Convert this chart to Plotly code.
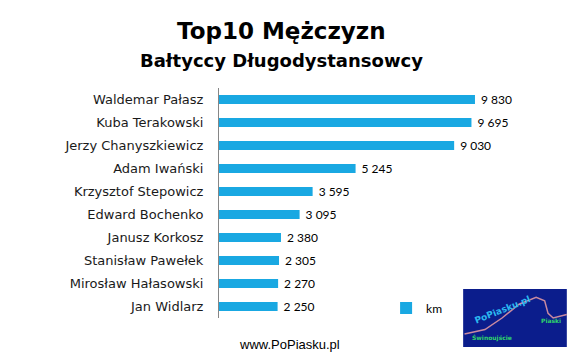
import plotly.graph_objects as go

names = ["Waldemar Pałasz", "Kuba Terakowski", "Jerzy Chanyszkiewicz", "Adam Iwański",
         "Krzysztof Stepowicz", "Edward Bochenko", "Janusz Korkosz", "Stanisław Pawełek",
         "Mirosław Hałasowski", "Jan Widlarz"]
km = [9830, 9695, 9030, 5245, 3595, 3095, 2380, 2305, 2270, 2250]
series_name = "km"
title = "Top10 Mężczyzn"
subtitle = "Bałtyccy Długodystansowcy"
footer = "www.PoPiasku.pl"

BAR = "#19a8e2"

fig = go.Figure(go.Bar(
    y=names, x=km, orientation="h", name=series_name,
    marker=dict(color=BAR, line=dict(width=0)),
    texttemplate="\u2005%{x:,.0f}", textposition="outside", constraintext="none",
    textfont=dict(family="Lato", size=12, color="#000000"),
    cliponaxis=False, showlegend=True,
))

fig.update_layout(
    width=578, height=355,
    margin=dict(l=219, r=18, t=88, b=37, autoexpand=False),
    paper_bgcolor="white", plot_bgcolor="white",
    separators=", ",
    bargap=0.6,
    xaxis=dict(range=[0, 13095], visible=False, showgrid=False, zeroline=False),
    yaxis=dict(categoryorder="array", categoryarray=names, autorange="reversed",
               showline=True, linecolor="#868686", linewidth=1, ticks="",
               ticklabelstandoff=12,
               tickfont=dict(family="DejaVu Sans", size=13, color="#1a1a1a"),
               showgrid=False, zeroline=False),
    legend=dict(x=0.49, y=0.043, xanchor="left", yanchor="middle",
                font=dict(family="Lato", size=12, color="#000000"),
                bgcolor="rgba(0,0,0,0)", itemwidth=30),
    font=dict(family="DejaVu Sans"),
)

anns = [
    dict(text=f"<b>{title}</b>", x=0.182, y=1.25, font=dict(family="DejaVu Sans", size=23, color="#000")),
    dict(text=f"<b>{subtitle}</b>", x=0.182, y=1.12, font=dict(family="DejaVu Sans", size=18, color="#000")),
    dict(text=footer, x=0.208, y=-0.117, font=dict(family="Liberation Sans", size=13, color="#000")),
    dict(text="<b>PoPiasku.pl</b>", x=0.83, y=0.035, textangle=-22,
         font=dict(family="DejaVu Sans", size=9, color="#2bb8f0")),
    dict(text="<b>Piaski</b>", x=0.975, y=-0.01, font=dict(family="DejaVu Sans", size=6, color="#2fd36b")),
    dict(text="<b>Świnoujście</b>", x=0.8, y=-0.085, font=dict(family="DejaVu Sans", size=6, color="#2fd36b")),
]
for a in anns:
    a.update(xref="paper", yref="paper", showarrow=False, xanchor="center", yanchor="middle")
    fig.add_annotation(**a)

fig.add_shape(type="rect", xref="paper", yref="paper", x0=0.716, x1=1.02, y0=-0.126, y1=0.126,
              fillcolor="#0b1d8c", line=dict(width=0), layer="below")
fig.add_shape(type="path", xref="paper", yref="paper", layer="below",
              path="M 0.72 -0.07 L 0.78 -0.05 L 0.83 0.0 L 0.88 0.06 L 0.93 0.09 L 0.955 0.075 L 0.965 0.02 L 0.98 0.0 L 1.02 0.015",
              line=dict(color="#c98aa0", width=1.5))

fig.write_html("out.html")
